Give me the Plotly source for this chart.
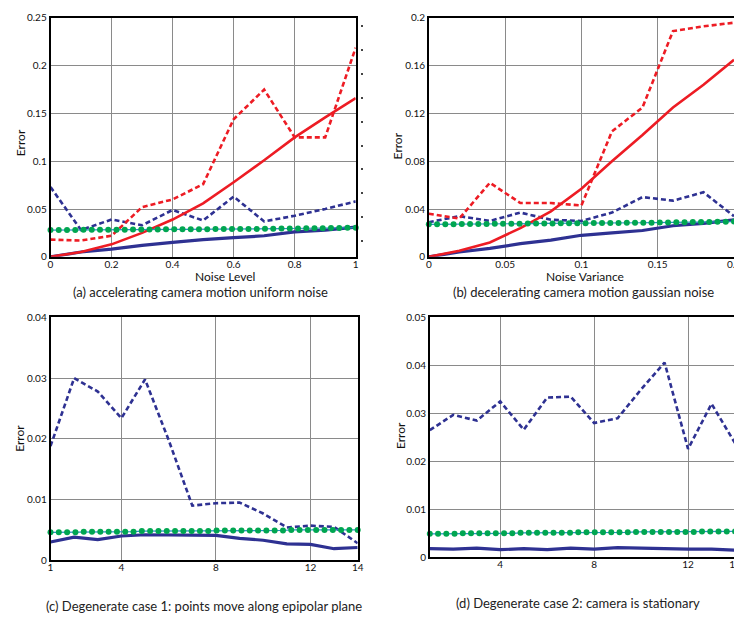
import numpy as np
import plotly.graph_objects as go

# ---------------- data ----------------
# (a) accelerating camera motion, uniform noise
a_x = [0, 0.1, 0.2, 0.3, 0.4, 0.5, 0.6, 0.7, 0.8, 0.9, 1.0]
a_red_dash = [0.018, 0.017, 0.022, 0.052, 0.060, 0.076, 0.144, 0.175, 0.125, 0.125, 0.219]
a_red_solid = [0.0, 0.005, 0.013, 0.025, 0.039, 0.056, 0.078, 0.101, 0.125, 0.146, 0.166]
a_blue_dash = [0.073, 0.028, 0.039, 0.033, 0.049, 0.038, 0.063, 0.037, 0.043, 0.050, 0.058]
a_blue_solid = [0.0, 0.005, 0.008, 0.012, 0.015, 0.018, 0.020, 0.022, 0.026, 0.028, 0.031]
a_green = [0.0280, 0.0280, 0.0281, 0.0281, 0.0282, 0.0282, 0.0283, 0.0283, 0.0284, 0.0284,
           0.0285, 0.0285, 0.0286, 0.0286, 0.0287, 0.0287, 0.0288, 0.0288, 0.0289, 0.0289,
           0.0290, 0.0290, 0.0291, 0.0291, 0.0292, 0.0292, 0.0293, 0.0294, 0.0295, 0.0296,
           0.0297, 0.0298, 0.0299, 0.0300, 0.0301, 0.0302, 0.0303, 0.0305]

# (b) decelerating camera motion, gaussian noise
b_x = [0, 0.02, 0.04, 0.06, 0.08, 0.10, 0.12, 0.14, 0.16, 0.18, 0.20]
b_red_dash = [0.036, 0.032, 0.062, 0.045, 0.045, 0.043, 0.105, 0.125, 0.189, 0.193, 0.196]
b_red_solid = [0.0, 0.005, 0.012, 0.024, 0.038, 0.057, 0.080, 0.102, 0.125, 0.144, 0.165]
b_blue_dash = [0.029, 0.034, 0.030, 0.037, 0.031, 0.030, 0.037, 0.050, 0.047, 0.054, 0.034]
b_blue_solid = [0.0, 0.004, 0.007, 0.011, 0.014, 0.018, 0.020, 0.022, 0.026, 0.028, 0.031]
b_green = [0.0272, 0.0272, 0.0273, 0.0273, 0.0274, 0.0274, 0.0275, 0.0275, 0.0276, 0.0276,
           0.0277, 0.0277, 0.0278, 0.0278, 0.0279, 0.0279, 0.0280, 0.0280, 0.0281, 0.0281,
           0.0282, 0.0282, 0.0283, 0.0283, 0.0284, 0.0284, 0.0285, 0.0286, 0.0287, 0.0288,
           0.0289, 0.0290, 0.0291, 0.0292, 0.0292, 0.0293, 0.0294, 0.0295]

# (c) degenerate case 1
c_x = [1, 2, 3, 4, 5, 6, 7, 8, 9, 10, 11, 12, 13, 14]
c_blue_dash = [0.0188, 0.0300, 0.0278, 0.0234, 0.0298, 0.0198, 0.0090, 0.0094, 0.0095,
               0.0077, 0.0054, 0.0057, 0.0055, 0.0028]
c_blue_solid = [0.0030, 0.0038, 0.0034, 0.0040, 0.0042, 0.0042, 0.0042, 0.0041, 0.0036,
                0.0033, 0.0027, 0.0026, 0.0019, 0.0021]
c_green = [0.0046, 0.0046, 0.0046, 0.0046, 0.0047, 0.0047, 0.0047, 0.0047, 0.0047, 0.0047,
           0.0047, 0.0048, 0.0048, 0.0048, 0.0048, 0.0048, 0.0048, 0.0048, 0.0048, 0.0048,
           0.0049, 0.0049, 0.0049, 0.0049, 0.0049, 0.0049, 0.0049, 0.0049, 0.0049, 0.0050,
           0.0050, 0.0050, 0.0050, 0.0050, 0.0050, 0.0050, 0.0050, 0.0050]

# (d) degenerate case 2
d_x = [1, 2, 3, 4, 5, 6, 7, 8, 9, 10, 11, 12, 13, 14]
d_blue_dash = [0.0265, 0.0297, 0.0285, 0.0325, 0.0266, 0.0333, 0.0335, 0.0280, 0.0290,
               0.0350, 0.0406, 0.0226, 0.0320, 0.0238]
d_blue_solid = [0.0018, 0.0017, 0.0019, 0.0016, 0.0018, 0.0016, 0.0019, 0.0017, 0.0020,
                0.0019, 0.0017, 0.0017, 0.0017, 0.0015]
d_green = [0.0049, 0.0049, 0.0049, 0.0049, 0.0050, 0.0050, 0.0050, 0.0050, 0.0050, 0.0050,
           0.0050, 0.0051, 0.0051, 0.0051, 0.0051, 0.0051, 0.0051, 0.0051, 0.0052, 0.0052,
           0.0052, 0.0052, 0.0052, 0.0052, 0.0052, 0.0053, 0.0053, 0.0053, 0.0053, 0.0053,
           0.0053, 0.0053, 0.0053, 0.0054, 0.0054, 0.0054, 0.0054, 0.0054]

# tick labels
a_xticks = [0, 0.2, 0.4, 0.6, 0.8, 1]
a_yticks = [0, 0.05, 0.1, 0.15, 0.2, 0.25]
b_xticks = [0, 0.05, 0.1, 0.15, 0.2]
b_yticks = [0, 0.04, 0.08, 0.12, 0.16, 0.2]
c_xticks = [1, 4, 8, 12, 14]
c_yticks = [0, 0.01, 0.02, 0.03, 0.04]
d_xticks = [4, 8, 12, 14]
d_yticks = [0, 0.01, 0.02, 0.03, 0.04, 0.05]

captions = ["(a) accelerating camera motion uniform noise",
            "(b) decelerating camera motion gaussian noise",
            "(c) Degenerate case 1: points move along epipolar plane",
            "(d) Degenerate case 2: camera is stationary"]

# ---------------- style ----------------
RED = "#ed1c24"
BLUE = "#2e3192"
GREEN = "#00a651"
TEAL = "#2b8cc4"
GRID = "#8a8a8a"
FONT = "Lato"
PAGE_MARGIN = 8          # default browser body margin (top/left offset of the figure)
W, H = 742 - PAGE_MARGIN, 624 - PAGE_MARGIN


def px_x(p):
    return min(1.0, max(0.0, (p - PAGE_MARGIN) / W))


def px_y(p):
    return min(1.0, max(0.0, 1 - (p - PAGE_MARGIN) / H))


fig = go.Figure()


def add_lines(xa, ya, x, blue_solid, blue_dash, green, red_solid=None, red_dash=None):
    gx = np.linspace(x[0], x[-1], len(green))
    fig.add_trace(go.Scatter(x=x, y=blue_solid, mode="lines", xaxis=xa, yaxis=ya,
                             line=dict(color=BLUE, width=3.2), showlegend=False))
    fig.add_trace(go.Scatter(x=x, y=blue_dash, mode="lines", xaxis=xa, yaxis=ya,
                             line=dict(color=BLUE, width=2.6, dash="5px,3px"), showlegend=False))
    if red_solid is not None:
        fig.add_trace(go.Scatter(x=x, y=red_solid, mode="lines", xaxis=xa, yaxis=ya,
                                 line=dict(color=RED, width=2.6), showlegend=False))
        fig.add_trace(go.Scatter(x=x, y=red_dash, mode="lines", xaxis=xa, yaxis=ya,
                                 line=dict(color=RED, width=2.6, dash="5px,3px"), showlegend=False))
    fig.add_trace(go.Scatter(x=gx, y=green, mode="lines+markers", xaxis=xa, yaxis=ya,
                             line=dict(color=TEAL, width=1.2),
                             marker=dict(color=GREEN, size=6, line=dict(width=0)),
                             showlegend=False, cliponaxis=False))


add_lines("x", "y", a_x, a_blue_solid, a_blue_dash, a_green, a_red_solid, a_red_dash)
add_lines("x2", "y2", b_x, b_blue_solid, b_blue_dash, b_green, b_red_solid, b_red_dash)
add_lines("x3", "y3", c_x, c_blue_solid, c_blue_dash, c_green)
add_lines("x4", "y4", d_x, d_blue_solid, d_blue_dash, d_green)

# invisible trace to carry the stray right-hand tick axis of panel (a)
fig.add_trace(go.Scatter(x=[0], y=[0], xaxis="x", yaxis="y5", mode="markers",
                         marker=dict(opacity=0), showlegend=False, hoverinfo="skip"))

tickfont = dict(family=FONT, size=10, color="#111")


def xax(domain, rng, ticks, anchor):
    return dict(domain=domain, range=rng, tickvals=ticks,
                ticktext=[("%g" % t) for t in ticks],
                showgrid=True, gridcolor=GRID, gridwidth=1.2, zeroline=False,
                showline=True, linecolor="black", linewidth=1.6, mirror=True,
                ticks="", tickfont=tickfont, anchor=anchor, ticklabelstandoff=-3)


def yax(domain, rng, ticks, anchor):
    return dict(domain=domain, range=rng, tickvals=ticks,
                ticktext=[("%g" % t) for t in ticks],
                showgrid=True, gridcolor=GRID, gridwidth=1.2, zeroline=False,
                showline=True, linecolor="black", linewidth=1.6, mirror=True,
                ticks="", tickfont=tickfont, anchor=anchor, ticklabelstandoff=0)


fig.update_layout(
    width=W, height=H,
    margin=dict(l=0, r=0, t=0, b=0),
    paper_bgcolor="white", plot_bgcolor="white",
    xaxis=xax([px_x(48), px_x(357)], [0, 1], a_xticks, "y"),
    yaxis=yax([px_y(255), px_y(11)], [0, 0.25], a_yticks, "x"),
    xaxis2=xax([px_x(431), px_x(740)], [0, 0.2], b_xticks, "y2"),
    yaxis2=yax([px_y(255), px_y(11)], [0, 0.2], b_yticks, "x2"),
    xaxis3=xax([px_x(48), px_x(359)], [1, 14], c_xticks, "y3"),
    yaxis3=yax([px_y(565), px_y(317)], [0, 0.04], c_yticks, "x3"),
    xaxis4=xax([px_x(432), px_x(741)], [1, 14], d_xticks, "y4"),
    yaxis4=yax([px_y(562), px_y(317)], [0, 0.05], d_yticks, "x4"),
    yaxis5=dict(overlaying="y", anchor="free", position=px_x(361), side="right",
                range=[0, 0.25], tick0=0.0164, dtick=0.025, ticks="outside",
                ticklen=2, tickwidth=2, tickcolor="#444", showticklabels=False,
                showgrid=False, showline=False, zeroline=False),
)

ann_font = dict(family=FONT, size=12, color="#111")
cap_font = dict(family=FONT, size=13, color="#222")
annotations = [
    dict(text="Noise Level", x=px_x(225), y=px_y(275), font=ann_font),
    dict(text="Noise Variance", x=px_x(589), y=px_y(275), font=ann_font),
    dict(text="Error", x=px_x(17), y=px_y(138), font=ann_font, textangle=-90),
    dict(text="Error", x=px_x(399), y=px_y(142), font=ann_font, textangle=-90),
    dict(text="Error", x=px_x(17), y=px_y(440), font=ann_font, textangle=-90),
    dict(text="Error", x=px_x(403), y=px_y(438), font=ann_font, textangle=-90),
    dict(text=captions[0], x=px_x(200), y=px_y(291), font=cap_font),
    dict(text=captions[1], x=px_x(588), y=px_y(291), font=cap_font),
    dict(text=captions[2], x=px_x(203), y=px_y(612), font=cap_font),
    dict(text=captions[3], x=px_x(582), y=px_y(609), font=cap_font),
]
for a in annotations:
    a.update(xref="paper", yref="paper", xanchor="center", yanchor="middle", showarrow=False)
fig.update_layout(annotations=annotations)

fig.write_html("out.html", config={"displayModeBar": False})
